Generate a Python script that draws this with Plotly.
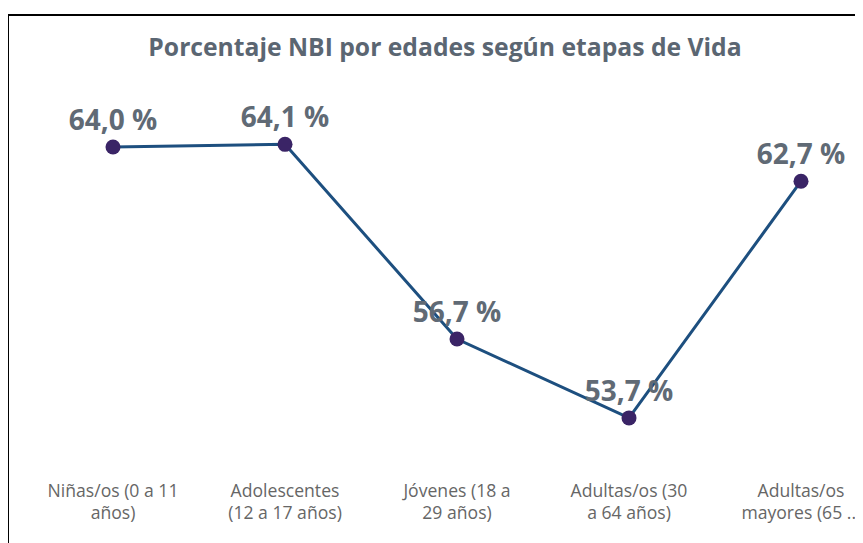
import plotly.graph_objects as go

etapas = [
    "Niñas/os (0 a 11<br>años)",
    "Adolescentes<br>(12 a 17 años)",
    "Jóvenes (18 a<br>29 años)",
    "Adultas/os (30<br>a 64 años)",
    "Adultas/os<br>mayores (65 ...",
]
porcentaje = [64.0, 64.1, 56.7, 53.7, 62.7]

# page has an 8px body margin, so the figure is drawn 8px in from the window edge
OFF = 8
W, H = 863 - OFF, 543 - OFF
ml, mr, mt, mb = 27 - OFF, 0, 60 - OFF, 75

fig = go.Figure()
fig.add_trace(go.Scatter(
    x=etapas, y=porcentaje,
    mode="lines+markers+text",
    line=dict(color="#1d4f7f", width=3),
    marker=dict(color="#3a2466", size=15),
    texttemplate="%{y:.1f} %",
    textposition="top center",
    textfont=dict(family="Open Sans", size=28, color="#606a75", weight="bold"),
    cliponaxis=False,
    hoverinfo="skip",
))

# black frame on top and left, like the screenshot
pw = W - ml - mr
ph = H - mt - mb
x0 = (8 - OFF - ml) / pw
y0 = 1 + (mt - (15 - OFF)) / ph
fig.add_shape(type="line", xref="paper", yref="paper", x0=x0, x1=1.01, y0=y0, y1=y0,
              line=dict(color="black", width=2))
fig.add_shape(type="line", xref="paper", yref="paper", x0=x0, x1=x0, y0=y0, y1=-0.5,
              line=dict(color="black", width=2))

fig.update_layout(
    width=W, height=H,
    margin=dict(l=ml, r=mr, t=mt, b=mb),
    paper_bgcolor="white", plot_bgcolor="white",
    separators=", ",
    showlegend=False,
    title=dict(text="<b>Porcentaje NBI por edades según etapas de Vida</b>",
               x=(445 - OFF) / W, xanchor="center", y=1 - (47 - OFF) / H, yanchor="middle",
               font=dict(family="Open Sans", size=24.7, color="#5b6672")),
    xaxis=dict(range=[-0.5, -0.5 + pw / 172], showgrid=False, zeroline=False,
               showline=False, ticks="", ticklabelstandoff=10,
               tickfont=dict(family="Open Sans", size=17.6, color="#666666")),
    yaxis=dict(range=[64 - (H - mb - (147 - OFF)) / 26.3, 64 + ((147 - OFF) - mt) / 26.3],
               visible=False),
)

fig.write_html("out.html")
